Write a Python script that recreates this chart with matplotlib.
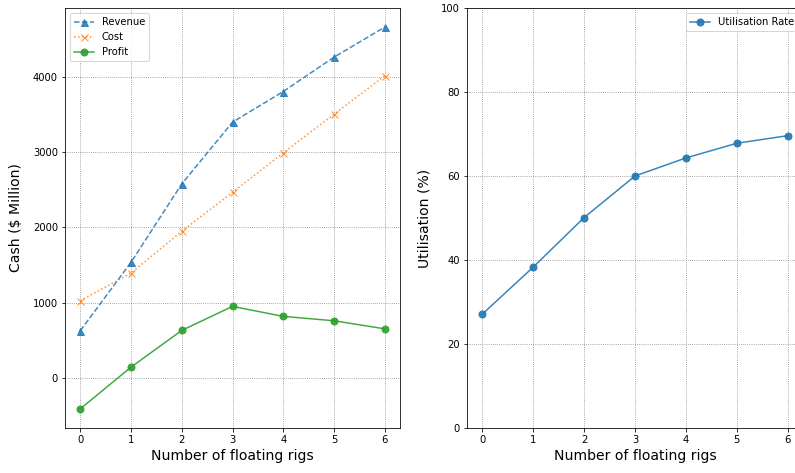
import matplotlib.pyplot as plt

rigs = [0, 1, 2, 3, 4, 5, 6]
revenue = [629, 1537, 2578, 3398, 3805, 4261, 4660]
cost = [1027, 1395, 1949, 2467, 2990, 3504, 4013]
profit = [-408, 146, 634, 953, 820, 762, 655]
utilisation = [27.1, 38.3, 50.1, 60.0, 64.3, 67.8, 69.6]

W, H = 795, 473
fig = plt.figure(figsize=(W / 72, H / 72), dpi=72)

# left panel: cash
ax1 = fig.add_axes([65 / W, 1 - 428 / H, 335 / W, 420 / H])
ax1.plot(rigs, revenue, '--^', color='C0', ms=7, alpha=0.85, label='Revenue')
ax1.plot(rigs, cost, ':x', color='C1', ms=7, alpha=0.85, label='Cost')
ax1.plot(rigs, profit, '-o', color='C2', ms=7, alpha=0.9, label='Profit')
ax1.set_xlabel('Number of floating rigs', fontsize=14)
ax1.set_ylabel('Cash ($ Million)', fontsize=14, labelpad=10)
ax1.set_xticks(rigs)
ax1.grid(color='gray', linestyle=':', linewidth=0.8)
ax1.legend(loc='upper left')

# right panel: utilisation (runs past the right edge like the original)
ax2 = fig.add_axes([467 / W, 1 - 428 / H, 336 / W, 420 / H])
ax2.plot(rigs, utilisation, '-o', color='C0', ms=7, alpha=0.9, label='Utilisation Rate')
ax2.set_ylim(0, 100)
ax2.set_xlabel('Number of floating rigs', fontsize=14)
ax2.set_ylabel('Utilisation (%)', fontsize=14, labelpad=10)
ax2.set_xticks(rigs)
ax2.grid(color='gray', linestyle=':', linewidth=0.8)
ax2.legend(loc='upper right')

fig.savefig('out.png', dpi=72)
